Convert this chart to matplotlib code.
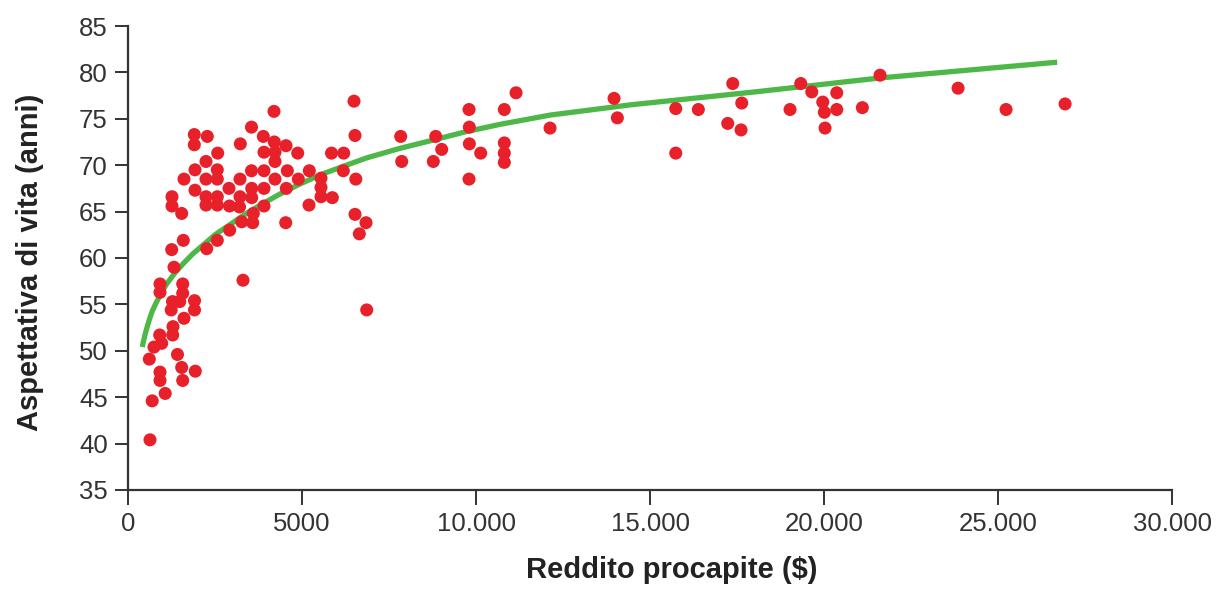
import numpy as np
import matplotlib
matplotlib.use("Agg")
import matplotlib.pyplot as plt
from matplotlib.ticker import FuncFormatter

# reddito procapite ($) e aspettativa di vita (anni)
income = [1905, 2279, 1905, 3549, 3227, 2578, 2241, 1925, 2566, 3549,
          1609, 2241, 2566, 3218, 1925, 2902, 2241, 2566, 3555, 1264,
          1264, 2241, 2566, 2917, 3218, 3204, 1543, 4195, 3888, 4204,
          4540, 3908, 4224, 4877, 4224, 5210, 3908, 4578, 4224, 4894,
          3908, 4549, 3555, 3908, 5201, 3601, 3583, 3267, 4532, 2922,
          2566, 2262, 1589, 1256, 1322, 3305, 6494, 6523, 5848, 6198,
          6187, 5546, 6546, 5546, 5546, 5871, 6523, 6839, 6647, 6859,
          7836, 7865, 8842, 9014, 8773, 9799, 9808, 9808, 10135, 9799,
          10813, 11150, 10813, 10813, 10813, 12127, 13966, 14061, 15739, 15739,
          16388, 17377, 17635, 17233, 17615, 19023, 19331, 19647, 20365, 19963,
          20009, 20365, 20029, 21101, 21609, 23851, 25230, 26926,
          920, 920, 1572, 1572, 1279, 1486, 1911, 1911, 1241, 1609,
          1293, 1284, 911, 968, 747, 612, 1422, 920, 920, 1543,
          1934, 1572, 1069, 695, 632]
life = [73.3, 73.1, 72.2, 74.1, 72.3, 71.3, 70.4, 69.5, 69.5, 69.4,
        68.5, 68.5, 68.5, 68.5, 67.3, 67.5, 66.6, 66.6, 67.5, 66.6,
        65.6, 65.7, 65.7, 65.6, 66.6, 65.5, 64.8, 75.8, 73.1, 72.5,
        72.1, 71.4, 71.4, 71.3, 70.4, 69.4, 69.4, 69.4, 68.5, 68.5,
        67.5, 67.5, 66.5, 65.6, 65.7, 64.8, 63.8, 63.9, 63.8, 63.0,
        61.9, 61.0, 61.9, 60.9, 59.0, 57.6, 76.9, 73.2, 71.3, 71.3,
        69.4, 68.6, 68.5, 67.6, 66.6, 66.5, 64.7, 63.8, 62.6, 54.4,
        73.1, 70.4, 73.1, 71.7, 70.4, 76.0, 74.1, 72.3, 71.3, 68.5,
        76.0, 77.8, 72.4, 71.3, 70.3, 74.0, 77.2, 75.1, 76.1, 71.3,
        76.0, 78.8, 76.7, 74.5, 73.8, 76.0, 78.8, 77.9, 77.8, 76.8,
        75.7, 76.0, 74.0, 76.2, 79.7, 78.3, 76.0, 76.6,
        57.2, 56.3, 57.2, 56.2, 55.3, 55.3, 55.4, 54.4, 54.4, 53.5,
        52.6, 51.7, 51.7, 50.8, 50.4, 49.1, 49.6, 47.7, 46.8, 48.2,
        47.8, 46.8, 45.4, 44.6, 40.4]

# curva di tendenza (punti letti lungo la linea verde)
curve_x = [410, 450, 500, 600, 700, 800, 950, 1110, 1350, 1590, 1850,
           2160, 2500, 2930, 3360, 3800, 4370, 4900, 5550, 6200, 6870,
           7800, 8760, 9700, 10690, 12130, 14430, 18020, 21610, 26700]
curve_y = [50.4, 51.1, 51.9, 53.2, 54.3, 55.1, 56.2, 57.2, 58.4, 59.4, 60.4,
           61.4, 62.5, 63.6, 64.7, 65.7, 66.9, 67.9, 69.0, 69.9, 70.8,
           71.8, 72.7, 73.6, 74.4, 75.4, 76.5, 77.9, 79.4, 81.1]

xticks = [0, 5000, 10000, 15000, 20000, 25000, 30000]
yticks = [35, 40, 45, 50, 55, 60, 65, 70, 75, 80, 85]

plt.rcParams['font.family'] = ['Liberation Sans', 'DejaVu Sans']

fig = plt.figure(figsize=(12.19, 5.91), dpi=100)
ax = fig.add_axes([0.105, 0.171, 0.8565, 0.785])

ax.plot(curve_x, curve_y, color='#4db848', lw=3.8, solid_capstyle='butt',
        solid_joinstyle='round', zorder=2)
ax.scatter(income, life, s=88, color='#e8202a', edgecolors='none', zorder=3)

ax.set_xlim(0, 30000)
ax.set_ylim(35, 85)
ax.set_xticks(xticks)
ax.set_yticks(yticks)

def fmt_x(v, pos):
    v = int(v)
    if v < 10000:
        return str(v)
    return f"{v:,}".replace(",", ".")

ax.xaxis.set_major_formatter(FuncFormatter(fmt_x))

for s in ['top', 'right']:
    ax.spines[s].set_visible(False)
for s in ['left', 'bottom']:
    ax.spines[s].set_color('#333333')
    ax.spines[s].set_linewidth(1.6)

ax.tick_params(axis='x', length=11, width=1.4, color='#333333', pad=5,
               labelsize=18.5, labelcolor='#333333')
ax.tick_params(axis='y', length=9.5, width=1.4, color='#333333', pad=5,
               labelsize=18.5, labelcolor='#333333')

ax.set_xlabel('Reddito procapite ($)', fontsize=21, fontweight='bold', color='#222222')
ax.set_ylabel('Aspettativa di vita (anni)', fontsize=21, fontweight='bold', color='#222222')
ax.xaxis.set_label_coords(0.521, -0.172)
ax.yaxis.set_label_coords(-0.094, 0.491)
ax.xaxis.label.set_va('center')
ax.yaxis.label.set_va('center')

fig.savefig('out.png', dpi=100, facecolor='white')
